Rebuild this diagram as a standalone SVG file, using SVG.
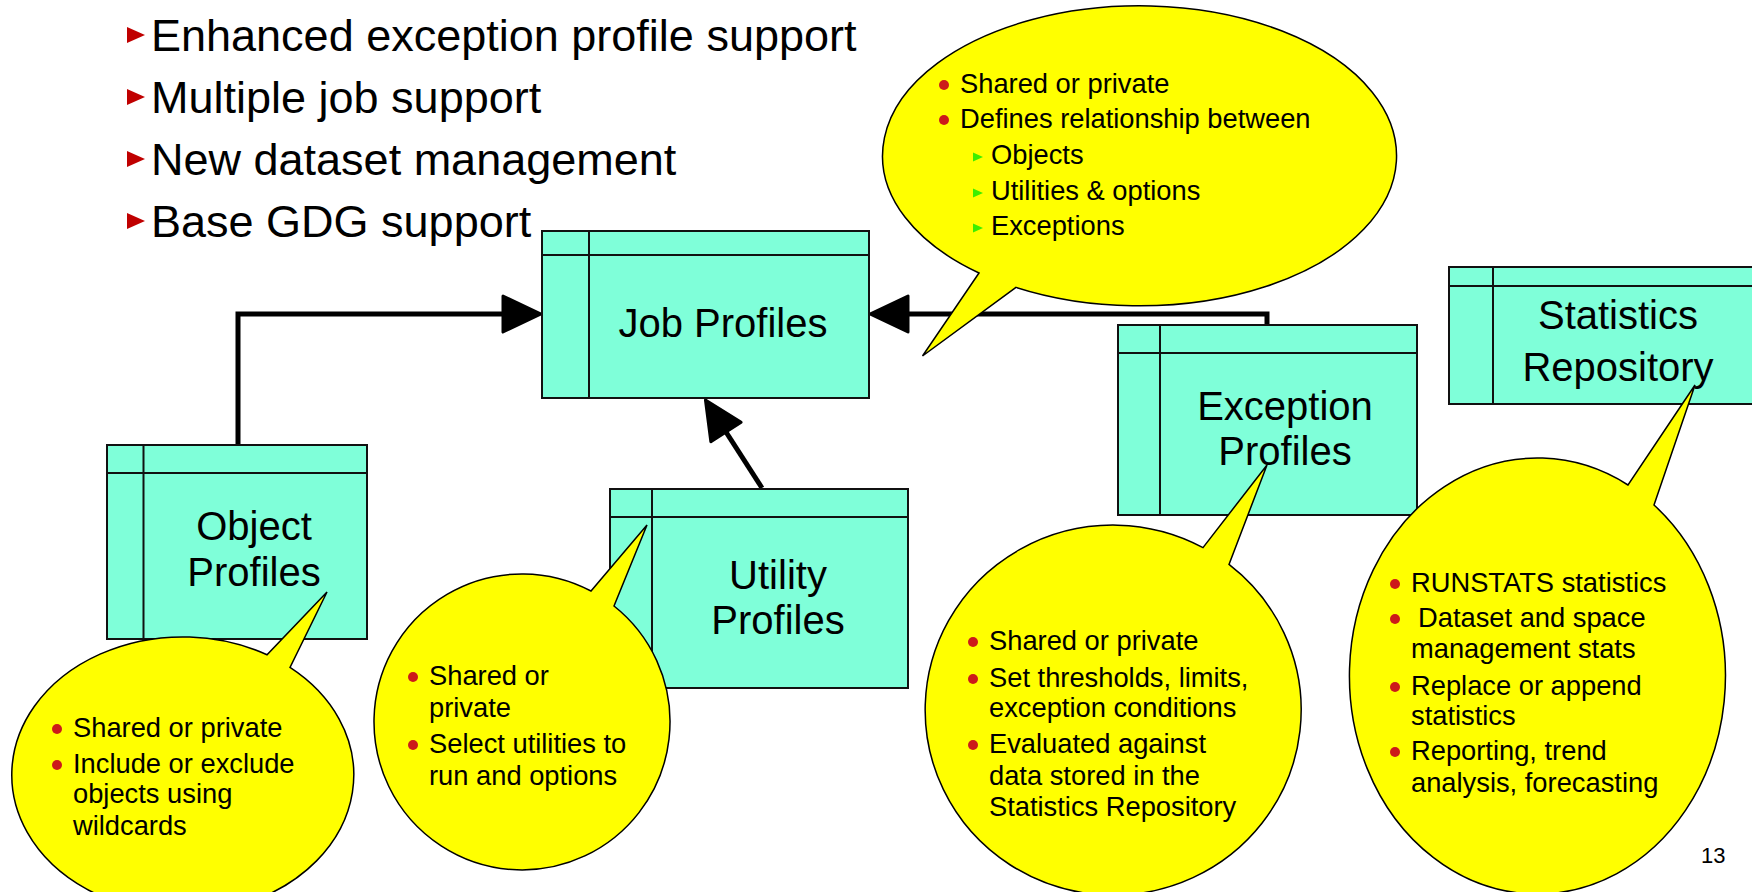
<svg xmlns="http://www.w3.org/2000/svg" width="1752" height="892" viewBox="0 0 1752 892">
<style>
  text { font-family: "Liberation Sans", Arial, sans-serif; fill: #000; }
  .head { font-size: 45px; }
  .title { font-size: 40px; text-anchor: middle; }
  .bt { font-size: 27.3px; }
  .pg { font-size: 22px; }
  .box { fill: #7FFFD9; stroke: #111; stroke-width: 2; }
  .sep { stroke: #111; stroke-width: 2; fill: none; }
  .conn { fill: none; stroke: #000; stroke-width: 5; stroke-linejoin: miter; }
  .bubble { fill: #FFFF00; stroke: #000; stroke-width: 1.5; stroke-linejoin: miter; }
  .dot { fill: #CC1A1A; }
  .tri { fill: #C00000; }
  .gtri { fill: #3CEE00; }
</style>
<defs>
  <marker id="arrow" viewBox="0 0 42 40" markerWidth="42" markerHeight="40" refX="2" refY="20" orient="auto" markerUnits="userSpaceOnUse">
    <path d="M2,2 L40,20 L2,38 Z" fill="#000" stroke="#000" stroke-width="3" stroke-linejoin="round"/>
  </marker>
</defs>

<rect width="1752" height="892" fill="#FFFFFF"/>

<g id="headings">
  <polygon class="tri" points="127,27 145,35 127,43"/>
  <text class="head" x="151" y="51">Enhanced exception profile support</text>
  <polygon class="tri" points="127,89 145,97 127,105"/>
  <text class="head" x="151" y="113">Multiple job support</text>
  <polygon class="tri" points="127,151 145,159 127,167"/>
  <text class="head" x="151" y="175">New dataset management</text>
  <polygon class="tri" points="127,213 145,221 127,229"/>
  <text class="head" x="151" y="237">Base GDG support</text>
</g>

<g id="connectors">
  <path class="conn" d="M238,445 L238,314 L503,314" marker-end="url(#arrow)"/>
  <path class="conn" d="M1267,325 L1267,314 L908,314" marker-end="url(#arrow)"/>
  <path class="conn" d="M762,488 L726,432" marker-end="url(#arrow)"/>
</g>

<g id="job-profiles">
  <rect class="box" x="542" y="231" width="327" height="167"/>
  <line class="sep" x1="542" y1="255" x2="869" y2="255"/>
  <line class="sep" x1="589" y1="231" x2="589" y2="398"/>
  <text class="title" x="723" y="337">Job Profiles</text>
</g>

<g id="object-profiles">
  <rect class="box" x="107" y="445" width="260" height="194"/>
  <line class="sep" x1="107" y1="473" x2="367" y2="473"/>
  <line class="sep" x1="143.5" y1="445" x2="143.5" y2="639"/>
  <text class="title" x="254" y="540">Object</text>
  <text class="title" x="254" y="586">Profiles</text>
</g>

<g id="utility-profiles">
  <rect class="box" x="610" y="489" width="298" height="199"/>
  <line class="sep" x1="610" y1="517" x2="908" y2="517"/>
  <line class="sep" x1="652" y1="489" x2="652" y2="688"/>
  <text class="title" x="778" y="589">Utility</text>
  <text class="title" x="778" y="634">Profiles</text>
</g>

<g id="exception-profiles">
  <rect class="box" x="1118" y="325" width="299" height="190"/>
  <line class="sep" x1="1118" y1="353" x2="1417" y2="353"/>
  <line class="sep" x1="1160" y1="325" x2="1160" y2="515"/>
  <text class="title" x="1285" y="420">Exception</text>
  <text class="title" x="1285" y="465">Profiles</text>
</g>

<g id="statistics-repository">
  <rect class="box" x="1449" y="267" width="320" height="137"/>
  <line class="sep" x1="1449" y1="286" x2="1769" y2="286"/>
  <line class="sep" x1="1493" y1="267" x2="1493" y2="404"/>
  <text class="title" x="1618" y="329">Statistics</text>
  <text class="title" x="1618" y="381">Repository</text>
</g>

<g id="job-callout">
  <path class="bubble" d="M1016,287.4 A257,150 0 1 0 979,273 L922.5,356 Z"/>
  <circle class="dot" cx="944" cy="85" r="5"/>
  <text class="bt" x="960" y="93">Shared or private</text>
  <circle class="dot" cx="944" cy="120" r="5"/>
  <text class="bt" x="960" y="128">Defines relationship between</text>
  <polygon class="gtri" points="973,152.5 983,157 973,161.5"/>
  <text class="bt" x="991" y="164">Objects</text>
  <polygon class="gtri" points="973,188.5 983,193 973,197.5"/>
  <text class="bt" x="991" y="200">Utilities &amp; options</text>
  <polygon class="gtri" points="973,223.5 983,228 973,232.5"/>
  <text class="bt" x="991" y="235">Exceptions</text>
</g>

<g id="object-callout">
  <path class="bubble" d="M290,667.4 A171,138 0 1 1 267,654.8 L327,592 Z"/>
  <circle class="dot" cx="57" cy="729" r="5"/>
  <text class="bt" x="73" y="737">Shared or private</text>
  <circle class="dot" cx="57" cy="765" r="5"/>
  <text class="bt" x="73" y="773">Include or exclude</text>
  <text class="bt" x="73" y="803">objects using</text>
  <text class="bt" x="73" y="835">wildcards</text>
</g>

<g id="utility-callout">
  <path class="bubble" d="M614,606 A148,148 0 1 1 591,591 L647,525 Z"/>
  <circle class="dot" cx="413" cy="677" r="5"/>
  <text class="bt" x="429" y="685">Shared or</text>
  <text class="bt" x="429" y="717">private</text>
  <circle class="dot" cx="413" cy="745" r="5"/>
  <text class="bt" x="429" y="753">Select utilities to</text>
  <text class="bt" x="429" y="785">run and options</text>
</g>

<g id="exception-callout">
  <path class="bubble" d="M1229,564.4 A188,185 0 1 1 1203,547.6 L1267,465 Z"/>
  <circle class="dot" cx="973" cy="642" r="5"/>
  <text class="bt" x="989" y="650">Shared or private</text>
  <circle class="dot" cx="973" cy="679" r="5"/>
  <text class="bt" x="989" y="687">Set thresholds, limits,</text>
  <text class="bt" x="989" y="717">exception conditions</text>
  <circle class="dot" cx="973" cy="745" r="5"/>
  <text class="bt" x="989" y="753">Evaluated against</text>
  <text class="bt" x="989" y="785">data stored in the</text>
  <text class="bt" x="989" y="816">Statistics Repository</text>
</g>

<g id="statistics-callout">
  <path class="bubble" d="M1654,505 A188,218 0 1 1 1628,485 L1695,385 Z"/>
  <circle class="dot" cx="1395" cy="584" r="5"/>
  <text class="bt" x="1411" y="592">RUNSTATS statistics</text>
  <circle class="dot" cx="1395" cy="619" r="5"/>
  <text class="bt" x="1418" y="627">Dataset and space</text>
  <text class="bt" x="1411" y="658">management stats</text>
  <circle class="dot" cx="1395" cy="687" r="5"/>
  <text class="bt" x="1411" y="695">Replace or append</text>
  <text class="bt" x="1411" y="725">statistics</text>
  <circle class="dot" cx="1395" cy="752" r="5"/>
  <text class="bt" x="1411" y="760">Reporting, trend</text>
  <text class="bt" x="1411" y="792">analysis, forecasting</text>
</g>

<text class="pg" x="1701" y="863">13</text>
</svg>
